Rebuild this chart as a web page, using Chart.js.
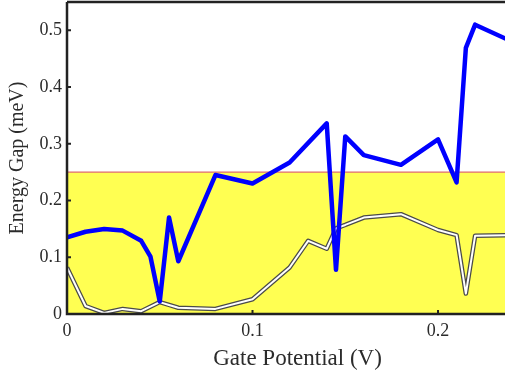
<!DOCTYPE html>
<html>
<head>
<meta charset="utf-8">
<script src="https://cdn.jsdelivr.net/npm/chart.js@4/dist/chart.umd.min.js"></script>
<style>
  html, body { margin: 0; padding: 0; background: #ffffff; }
  #c { display: block; }
</style>
</head>
<body>
<canvas id="c" width="505" height="375"></canvas>
<script>
// ---- data ----
const blueX = [0, 0.01, 0.02, 0.03, 0.04, 0.045, 0.05, 0.055, 0.06, 0.08, 0.1, 0.12, 0.14, 0.145, 0.15, 0.16, 0.18, 0.2, 0.21, 0.215, 0.22, 0.24];
const blueY = [0.135, 0.145, 0.150, 0.147, 0.129, 0.101, 0.022, 0.170, 0.093, 0.245, 0.230, 0.267, 0.336, 0.078, 0.313, 0.280, 0.263, 0.308, 0.232, 0.469, 0.510, 0.480];
const whiteX = [0, 0.01, 0.02, 0.03, 0.04, 0.05, 0.055, 0.06, 0.08, 0.1, 0.12, 0.13, 0.14, 0.145, 0.15, 0.16, 0.18, 0.2, 0.21, 0.215, 0.22, 0.24];
const whiteY = [0.082, 0.014, 0.002, 0.009, 0.005, 0.021, 0.016, 0.011, 0.009, 0.026, 0.082, 0.129, 0.115, 0.151, 0.157, 0.170, 0.176, 0.148, 0.139, 0.036, 0.138, 0.139];
const thresholdX = [0, 0.24];
const thresholdY = [0.25, 0.25];
const xTickValues = [0, 0.1, 0.2];
const xTickLabels = ['0', '0.1', '0.2'];
const yTickValues = [0, 0.1, 0.2, 0.3, 0.4, 0.5];
const yTickLabels = ['0', '0.1', '0.2', '0.3', '0.4', '0.5'];
const xTitle = 'Gate Potential (V)';
const yTitle = 'Energy Gap (meV)';

const pts = (xs, ys) => xs.map((x, i) => ({ x: x, y: ys[i] }));
const labelFor = (vals, labels) => (v) => {
  const i = vals.findIndex(t => Math.abs(t - v) < 1e-9);
  return i >= 0 ? labels[i] : '';
};

const TEXT = '#2b2b2b';
const AXIS = '#222222';
const SERIF = '"Liberation Serif", "Times New Roman", serif';

// frame: left/bottom axes, top border, inward tick marks, x title
const framePlugin = {
  id: 'frame',
  afterDatasetsDraw(chart) {
    const { ctx, chartArea: a, scales } = chart;
    ctx.save();
    ctx.strokeStyle = AXIS;
    ctx.lineWidth = 2.5;
    ctx.beginPath();
    ctx.moveTo(a.left, a.top);
    ctx.lineTo(a.left, a.bottom);
    ctx.lineTo(a.right, a.bottom);
    ctx.moveTo(a.left, a.top);
    ctx.lineTo(a.right, a.top);
    ctx.stroke();
    ctx.lineWidth = 2;
    ctx.beginPath();
    yTickValues.forEach(v => {
      const y = scales.y.getPixelForValue(v);
      ctx.moveTo(a.left, y); ctx.lineTo(a.left + 4, y);
    });
    xTickValues.forEach(v => {
      const x = scales.x.getPixelForValue(v);
      ctx.moveTo(x, a.bottom); ctx.lineTo(x, a.bottom - 4);
    });
    ctx.stroke();
    ctx.fillStyle = TEXT;
    ctx.font = '23px ' + SERIF;
    ctx.textAlign = 'center';
    ctx.textBaseline = 'alphabetic';
    ctx.fillText(xTitle, 297.5, 365);
    ctx.restore();
  }
};

const noPad = (s) => { s.paddingTop = 0; s.paddingBottom = 0; s.paddingLeft = 0; s.paddingRight = 0; };

new Chart(document.getElementById('c'), {
  type: 'scatter',
  data: {
    datasets: [
      { data: pts(blueX, blueY), showLine: true, borderColor: '#0000ff', borderWidth: 4.5,
        pointRadius: 0, fill: false, borderJoinStyle: 'round', borderCapStyle: 'butt' },
      { data: pts(whiteX, whiteY), showLine: true, borderColor: '#ffffff', borderWidth: 2,
        pointRadius: 0, fill: false, borderJoinStyle: 'round' },
      { data: pts(whiteX, whiteY), showLine: true, borderColor: '#4a4a4a', borderWidth: 4.5,
        pointRadius: 0, fill: false, borderJoinStyle: 'round' },
      { data: pts(thresholdX, thresholdY), showLine: true, borderColor: '#e06a6a', borderWidth: 1.2,
        pointRadius: 0, fill: 'origin', backgroundColor: '#ffff52' }
    ]
  },
  options: {
    responsive: false,
    animation: false,
    devicePixelRatio: 1,
    layout: { padding: { top: 2, right: 0, left: 0, bottom: 0 } },
    plugins: { legend: { display: false }, tooltip: { enabled: false } },
    scales: {
      x: {
        type: 'linear',
        min: 0,
        max: 0.2361,
        grid: { display: false, drawTicks: false },
        border: { display: false },
        afterFit: (s) => { s.height = 61; noPad(s); },
        afterBuildTicks: (s) => { s.ticks = xTickValues.map(v => ({ value: v })); },
        ticks: {
          includeBounds: false,
          padding: 6,
          color: TEXT,
          maxRotation: 0,
          font: { family: SERIF, size: 18 },
          callback: labelFor(xTickValues, xTickLabels)
        },
        title: { display: false }
      },
      y: {
        type: 'linear',
        min: 0,
        max: 0.55,
        grid: { display: false, drawTicks: false },
        border: { display: false },
        afterFit: (s) => { s.width = 67; noPad(s); },
        afterBuildTicks: (s) => { s.ticks = yTickValues.map(v => ({ value: v })); },
        ticks: {
          includeBounds: false,
          padding: 5,
          color: TEXT,
          font: { family: SERIF, size: 18 },
          callback: labelFor(yTickValues, yTickLabels)
        },
        title: {
          display: true,
          text: yTitle,
          color: TEXT,
          padding: { top: 6, bottom: 0 },
          font: { family: SERIF, size: 20 }
        }
      }
    }
  },
  plugins: [framePlugin]
});
</script>
</body>
</html>
